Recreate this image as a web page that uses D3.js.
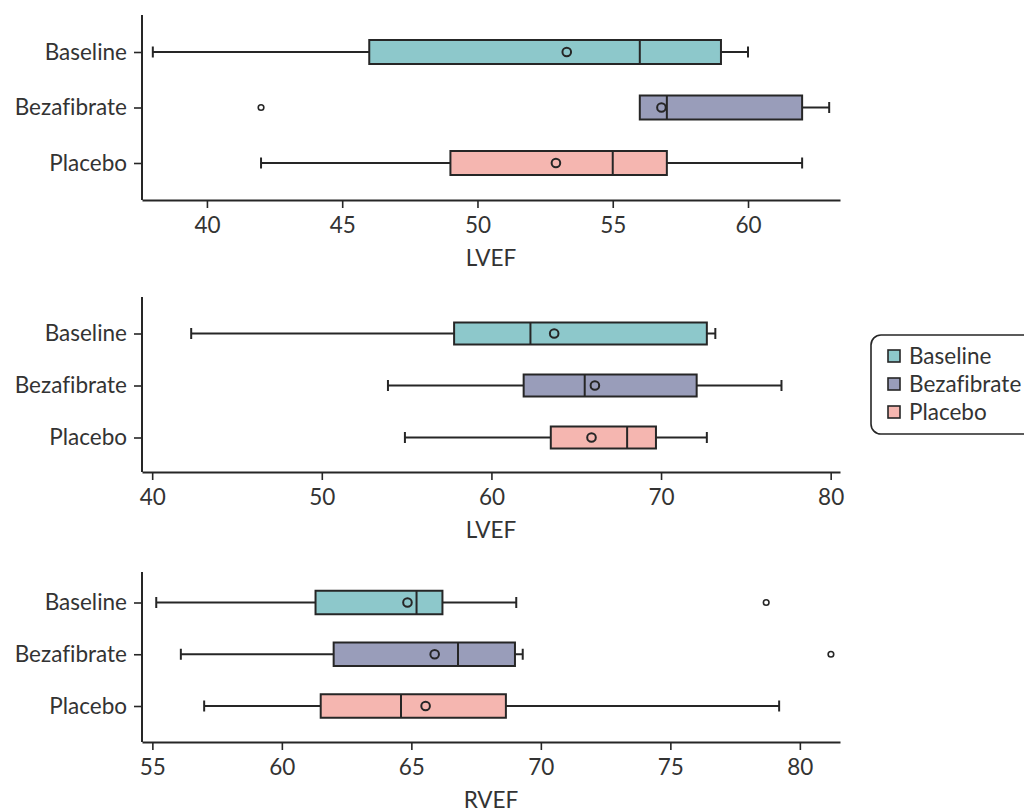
<!DOCTYPE html>
<html>
<head>
<meta charset="utf-8">
<script src="https://cdn.jsdelivr.net/npm/d3@7"></script>
<style>
  html, body { margin: 0; padding: 0; background: #fff; }
  svg { display: block; font-family: Lato, "Open Sans", sans-serif; font-variant-ligatures: none; }
</style>
</head>
<body>
<svg id="chart" width="1024" height="812"></svg>
<script>
// Treatment groups (one row per group in every panel)
const groups = ["Baseline", "Bezafibrate", "Placebo"];
const groupColors = ["#8DC8CB", "#999DBA", "#F5B6B0"];

// Panel 1: LVEF
const lvef1Low = [38, 56, 42];
const lvef1Q1 = [46, 56, 49];
const lvef1Median = [56, 57, 55];
const lvef1Q3 = [59, 62, 57];
const lvef1High = [60, 63, 62];
const lvef1Mean = [53.3, 56.8, 52.9];
const lvef1Outliers = [[], [42], []];
const lvef1Ticks = [40, 45, 50, 55, 60];
const lvef1Domain = [37.6, 63.4];

// Panel 2: LVEF
const lvef2Low = [42.3, 53.9, 54.9];
const lvef2Q1 = [57.8, 61.9, 63.5];
const lvef2Median = [62.3, 65.5, 68.0];
const lvef2Q3 = [72.7, 72.1, 69.7];
const lvef2High = [73.2, 77.1, 72.7];
const lvef2Mean = [63.7, 66.1, 65.9];
const lvef2Outliers = [[], [], []];
const lvef2Ticks = [40, 50, 60, 70, 80];
const lvef2Domain = [39.4, 80.55];

// Panel 3: RVEF
const rvefLow = [55.15, 56.1, 57.0];
const rvefQ1 = [61.3, 62.0, 61.5];
const rvefMedian = [65.2, 66.8, 64.6];
const rvefQ3 = [66.2, 69.0, 68.65];
const rvefHigh = [69.05, 69.3, 79.2];
const rvefMean = [64.85, 65.9, 65.55];
const rvefOutliers = [[78.7], [81.2], []];
const rvefTicks = [55, 60, 65, 70, 75, 80];
const rvefDomain = [54.6, 81.55];

const panels = [
  { title: "LVEF", low: lvef1Low, q1: lvef1Q1, med: lvef1Median, q3: lvef1Q3, high: lvef1High,
    mean: lvef1Mean, out: lvef1Outliers, ticks: lvef1Ticks, domain: lvef1Domain,
    top: 15, bottom: 200, rows: [52, 163], boxH: 24 },
  { title: "LVEF", low: lvef2Low, q1: lvef2Q1, med: lvef2Median, q3: lvef2Q3, high: lvef2High,
    mean: lvef2Mean, out: lvef2Outliers, ticks: lvef2Ticks, domain: lvef2Domain,
    top: 297, bottom: 472, rows: [333.5, 437.5], boxH: 22 },
  { title: "RVEF", low: rvefLow, q1: rvefQ1, med: rvefMedian, q3: rvefQ3, high: rvefHigh,
    mean: rvefMean, out: rvefOutliers, ticks: rvefTicks, domain: rvefDomain,
    top: 572, bottom: 742, rows: [602.5, 706], boxH: 23.5 }
];

const svg = d3.select("#chart");
const left = 142, right = 840;
const ink = "#262626";
const textColor = "#333";
const fontSize = 22.5;

panels.forEach(p => {
  const x = d3.scaleLinear().domain(p.domain).range([left, right]);
  const y = d3.scalePoint().domain(groups).range(p.rows);
  const g = svg.append("g");

  // x axis
  const xAxis = g.append("g")
    .attr("transform", `translate(0,${p.bottom})`)
    .call(d3.axisBottom(x).tickValues(p.ticks).tickSize(8).tickSizeOuter(0).tickPadding(9).tickFormat(d3.format("d")));
  xAxis.select(".domain").attr("stroke", ink).attr("stroke-width", 2);
  xAxis.selectAll(".tick line").attr("stroke", ink).attr("stroke-width", 1.6);
  xAxis.selectAll(".tick text").attr("fill", textColor).style("font-size", fontSize + "px").style("font-family", "Lato");

  // y axis (line spans the whole panel height)
  const yAxis = g.append("g")
    .attr("transform", `translate(${left},0)`)
    .call(d3.axisLeft(y).tickSize(8).tickSizeOuter(0).tickPadding(7));
  yAxis.select(".domain").attr("d", `M0,${p.top}V${p.bottom}`).attr("stroke", ink).attr("stroke-width", 2);
  yAxis.selectAll(".tick line").attr("stroke", ink).attr("stroke-width", 1.6);
  yAxis.selectAll(".tick text").attr("fill", textColor).style("font-size", fontSize + "px").style("font-family", "Lato");

  // axis title
  g.append("text")
    .attr("x", (left + right) / 2)
    .attr("y", p.bottom + 66)
    .attr("text-anchor", "middle")
    .attr("fill", textColor)
    .style("font-size", fontSize + "px")
    .text(p.title);

  groups.forEach((grp, i) => {
    const cy = y(grp);
    const h = p.boxH;
    const row = g.append("g");
    // whiskers
    row.append("line").attr("x1", x(p.low[i])).attr("x2", x(p.q1[i])).attr("y1", cy).attr("y2", cy)
      .attr("stroke", ink).attr("stroke-width", 2);
    row.append("line").attr("x1", x(p.q3[i])).attr("x2", x(p.high[i])).attr("y1", cy).attr("y2", cy)
      .attr("stroke", ink).attr("stroke-width", 2);
    [p.low[i], p.high[i]].forEach(v => {
      if (v === p.q1[i] || v === p.q3[i]) return;
      row.append("line").attr("x1", x(v)).attr("x2", x(v)).attr("y1", cy - 5.5).attr("y2", cy + 5.5)
        .attr("stroke", ink).attr("stroke-width", 2);
    });
    // box
    row.append("rect")
      .attr("x", x(p.q1[i])).attr("y", cy - h / 2)
      .attr("width", x(p.q3[i]) - x(p.q1[i])).attr("height", h)
      .attr("fill", groupColors[i]).attr("stroke", ink).attr("stroke-width", 2);
    // median
    row.append("line").attr("x1", x(p.med[i])).attr("x2", x(p.med[i]))
      .attr("y1", cy - h / 2).attr("y2", cy + h / 2).attr("stroke", ink).attr("stroke-width", 2);
    // mean
    row.append("circle").attr("cx", x(p.mean[i])).attr("cy", cy).attr("r", 4.3)
      .attr("fill", "none").attr("stroke", ink).attr("stroke-width", 2);
    // outliers
    p.out[i].forEach(v => {
      row.append("circle").attr("cx", x(v)).attr("cy", cy).attr("r", 2.8)
        .attr("fill", "none").attr("stroke", ink).attr("stroke-width", 1.6);
    });
  });
});

// legend
const legend = svg.append("g").attr("transform", "translate(871,335)");
legend.append("rect").attr("x", 0).attr("y", 0).attr("width", 170).attr("height", 99)
  .attr("rx", 10).attr("ry", 10).attr("fill", "#fff").attr("stroke", ink).attr("stroke-width", 1.6);
groups.forEach((grp, i) => {
  const cy = 21 + i * 28;
  legend.append("rect").attr("x", 17).attr("y", cy - 6).attr("width", 12).attr("height", 12)
    .attr("fill", groupColors[i]).attr("stroke", ink).attr("stroke-width", 1.6);
  legend.append("text").attr("x", 38).attr("y", cy).attr("dy", "0.35em")
    .attr("fill", textColor).style("font-size", fontSize + "px").text(grp);
});
</script>
</body>
</html>
